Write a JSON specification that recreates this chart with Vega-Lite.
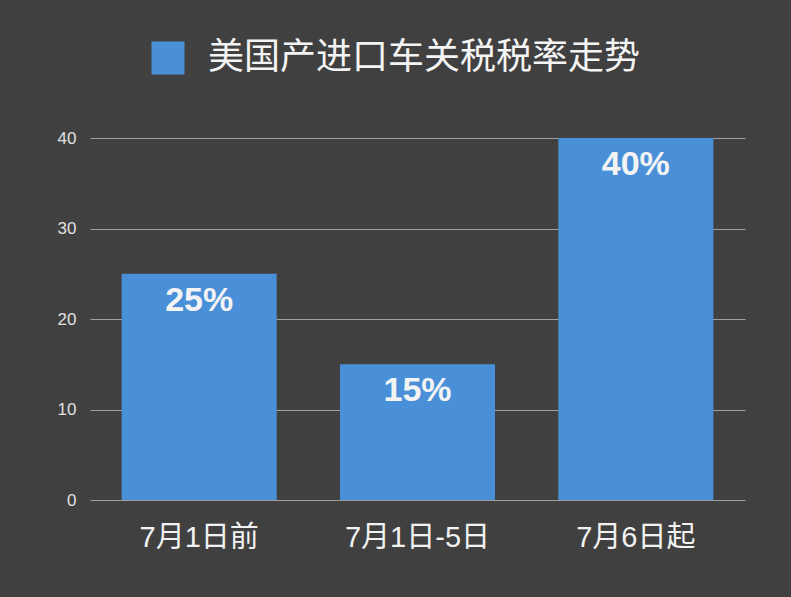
{
  "$schema": "https://vega.github.io/schema/vega-lite/v6.json",
  "width": 655,
  "height": 362,
  "autosize": {"type": "none"},
  "padding": {"left": 90, "top": 138, "right": 46, "bottom": 97},
  "background": "#404040",
  "data": {
    "values": [
      {"period": "7月1日前", "rate": 25, "label": "25%", "series": "美国产进口车关税税率走势"},
      {"period": "7月1日-5日", "rate": 15, "label": "15%", "series": "美国产进口车关税税率走势"},
      {"period": "7月6日起", "rate": 40, "label": "40%", "series": "美国产进口车关税税率走势"}
    ]
  },
  "encoding": {
    "x": {
      "field": "period",
      "type": "nominal",
      "sort": null,
      "scale": {"paddingInner": 0.29, "paddingOuter": 0.145},
      "axis": {
        "title": null,
        "domain": false,
        "ticks": false,
        "labelAngle": 0,
        "labelFontSize": 29,
        "labelColor": "#f2f2f2",
        "labelPadding": 23
      }
    },
    "y": {
      "field": "rate",
      "type": "quantitative",
      "scale": {"domain": [0, 40], "nice": false},
      "axis": {
        "title": null,
        "values": [0, 10, 20, 30, 40],
        "domain": false,
        "ticks": false,
        "grid": true,
        "gridColor": "#a0a0a0",
        "gridWidth": 1,
        "labelFontSize": 17,
        "labelColor": "#e0e0e0",
        "labelPadding": 14
      }
    }
  },
  "layer": [
    {
      "mark": {"type": "bar", "opacity": 1},
      "encoding": {
        "color": {
          "field": "series",
          "type": "nominal",
          "scale": {"range": ["#4a90d9"]},
          "legend": {
            "title": null,
            "orient": "none",
            "legendX": 60,
            "legendY": -98,
            "padding": 0,
            "symbolType": "square",
            "symbolSize": 1089,
            "symbolStrokeWidth": 0,
            "symbolOpacity": 1,
            "labelFontSize": 36,
            "labelColor": "#f4f4f4",
            "labelOffset": 22,
            "labelLimit": 700
          }
        }
      }
    },
    {
      "mark": {
        "type": "text",
        "baseline": "alphabetic",
        "dy": 37,
        "fontSize": 34,
        "fontWeight": "bold",
        "color": "#f4f4f4"
      },
      "encoding": {
        "text": {"field": "label"}
      }
    }
  ],
  "config": {
    "font": "Liberation Sans, Noto Sans CJK SC, sans-serif",
    "view": {"stroke": null}
  }
}
